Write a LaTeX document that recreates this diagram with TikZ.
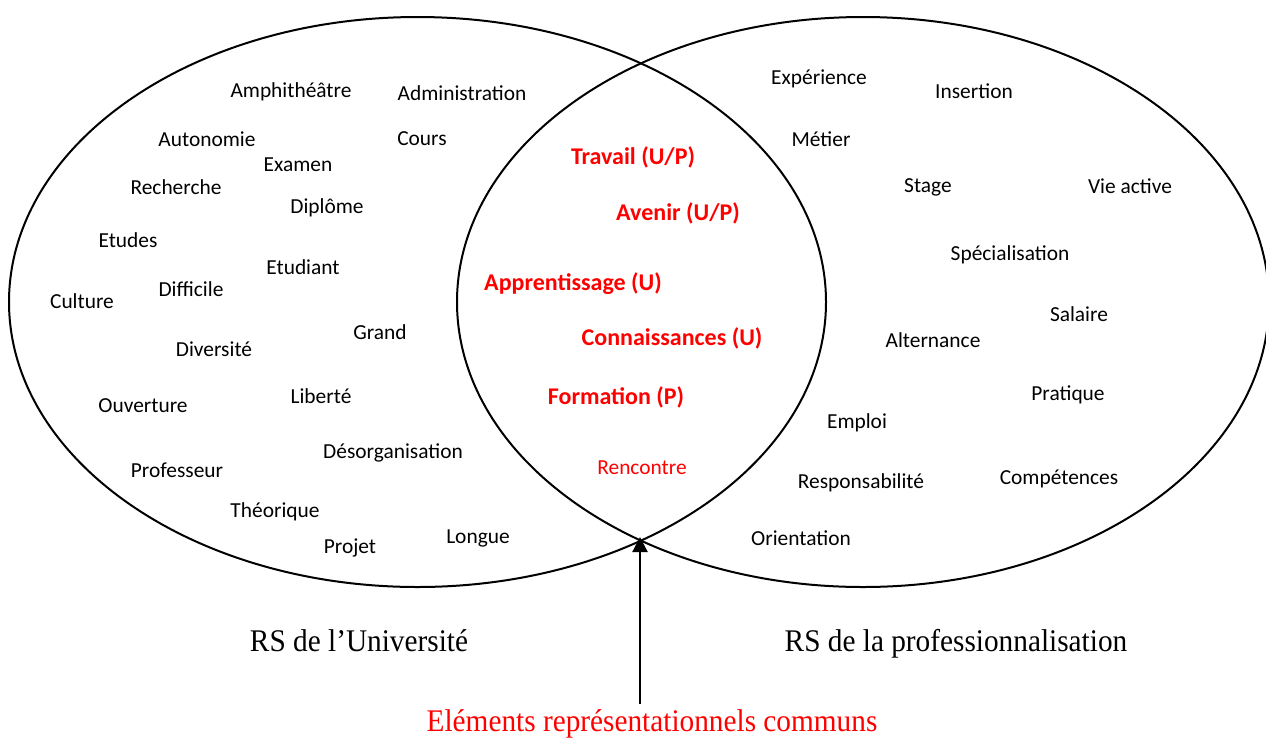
\documentclass[tikz,border=0pt]{standalone}
\usepackage{fontspec}
\setmainfont{Liberation Serif}
\newfontfamily\calfont{Carlito}
\usetikzlibrary{arrows.meta}
\definecolor{redtxt}{RGB}{255,0,0}
\tikzset{
  wrd/.style={font=\calfont\fontsize{21.4}{25}\selectfont, inner sep=0pt, anchor=center, yshift=-2pt},
  com/.style={font=\calfont\bfseries\fontsize{24}{28}\selectfont, text=redtxt, inner sep=0pt, anchor=center, yshift=-2pt},
  comreg/.style={font=\calfont\fontsize{21.4}{25}\selectfont, text=redtxt, inner sep=0pt, anchor=center, yshift=-2pt},
  captxt/.style={font=\fontsize{31.5}{34}\selectfont, inner sep=0pt, anchor=base, xscale=0.93},
  venn/.style={draw=black, line width=2pt},
}
\begin{document}
\begin{tikzpicture}[x=1pt,y=-1pt]
\useasboundingbox (0,0) rectangle (1266,740);
\fill[white] (0,0) rectangle (1266,740);
% ellipses
\draw[venn] (417.5,302) ellipse [x radius=408.5pt, y radius=285pt];
\draw[venn] (863,302) ellipse [x radius=406pt, y radius=285pt];
% left words
\node[wrd] (w1) at (291,90) {Amphithéâtre};
\node[wrd] (w2) at (462,91) {Administration};
\node[wrd] (w3) at (207,137) {Autonomie};
\node[wrd] (w4) at (422,137) {Cours};
\node[wrd] (w5) at (298,163) {Examen};
\node[wrd] (w6) at (176,185) {Recherche};
\node[wrd] (w7) at (327,206) {Diplôme};
\node[wrd] (w8) at (128,238) {Etudes};
\node[wrd] (w9) at (303,265) {Etudiant};
\node[wrd] (w10) at (191,287) {Difficile};
\node[wrd] (w11) at (82,299) {Culture};
\node[wrd] (w12) at (380,330) {Grand};
\node[wrd] (w13) at (214,347) {Diversité};
\node[wrd] (w14) at (321,394) {Liberté};
\node[wrd] (w15) at (143,404) {Ouverture};
\node[wrd] (w16) at (393,451) {Désorganisation};
\node[wrd] (w17) at (177,468) {Professeur};
\node[wrd] (w18) at (275,510) {Théorique};
\node[wrd] (w19) at (478,536) {Longue};
\node[wrd] (w20) at (350,546) {Projet};
% common words
\node[com] (c1) at (633,155) {Travail (U/P)};
\node[com] (c2) at (678,211) {Avenir (U/P)};
\node[com] (c3) at (573,282) {Apprentissage (U)};
\node[com] (c4) at (672,336) {Connaissances (U)};
\node[com] (c5) at (616,395) {Formation (P)};
\node[comreg] (c6) at (642,466) {Rencontre};
% right words
\node[wrd] (r1) at (819,77) {Expérience};
\node[wrd] (r2) at (974,89) {Insertion};
\node[wrd] (r3) at (821,137) {Métier};
\node[wrd] (r4) at (928,185) {Stage};
\node[wrd] (r5) at (1130,184) {Vie active};
\node[wrd] (r6) at (1010,253) {Spécialisation};
\node[wrd] (r7) at (1079,312) {Salaire};
\node[wrd] (r8) at (933,338) {Alternance};
\node[wrd] (r9) at (1068,393) {Pratique};
\node[wrd] (r10) at (857,421) {Emploi};
\node[wrd] (r11) at (1059,477) {Compétences};
\node[wrd] (r12) at (861,481) {Responsabilité};
\node[wrd] (r13) at (801,536) {Orientation};
% captions
\node[captxt] (capU) at (359,651) {RS de l’Université};
\node[captxt] (capP) at (956,651) {RS de la professionnalisation};
\node[captxt, text=redtxt] (capC) at (652,731) {Eléments représentationnels communs};
% arrow
\coordinate (tail) at (640,704);
\coordinate (meet) at (640,537);
\draw[line width=2.2pt, -{Triangle[length=15pt,width=15pt]}] (tail) -- (meet);
\end{tikzpicture}
\end{document}
